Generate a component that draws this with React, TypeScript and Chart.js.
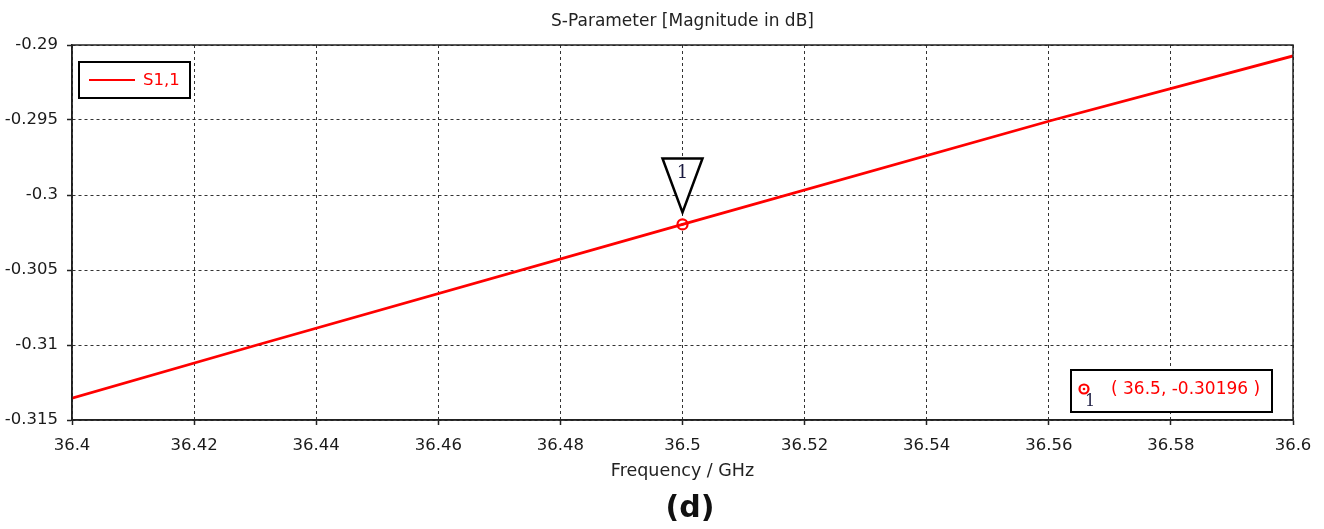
import React, { useEffect, useRef } from "react";
import { Chart, registerables } from "chart.js";

Chart.register(...registerables);

const chartTitle = "S-Parameter [Magnitude in dB]";
const xAxisTitle = "Frequency / GHz";
const figureLabel = "(d)";
const seriesLabel = "S1,1";

const freqGHz = [36.4, 36.4303, 36.5, 36.5607, 36.6];
const s11dB = [-0.31355, -0.31, -0.30196, -0.295, -0.29073];

const markerFreq = [36.5];
const markerValue = [-0.30196];
const markerId = ["1"];

const xTicks = [36.4, 36.42, 36.44, 36.46, 36.48, 36.5, 36.52, 36.54, 36.56, 36.58, 36.6];
const xTickLabels = ["36.4", "36.42", "36.44", "36.46", "36.48", "36.5", "36.52", "36.54", "36.56", "36.58", "36.6"];
const yTicks = [-0.315, -0.31, -0.305, -0.3, -0.295, -0.29];
const yTickLabels = ["-0.315", "-0.31", "-0.305", "-0.3", "-0.295", "-0.29"];

const FONT = "'DejaVu Sans', 'Liberation Sans', sans-serif";
const RED = "#ff0000";

const decorPlugin = {
  id: "decor",
  afterDraw(chart: any) {
    const { ctx, chartArea } = chart;
    const { left, right, top, bottom } = chartArea;
    const xs = chart.scales.x;
    const ys = chart.scales.y;
    ctx.save();
    // frame
    ctx.strokeStyle = "#222";
    ctx.lineWidth = 1.5;
    ctx.setLineDash([]);
    ctx.strokeRect(left, top, right - left, bottom - top);

    // title
    ctx.fillStyle = "#222";
    ctx.font = `17px ${FONT}`;
    ctx.textAlign = "center";
    ctx.textBaseline = "middle";
    ctx.fillText(chartTitle, (left + right) / 2, 22);

    // figure label
    ctx.font = `bold 30px ${FONT}`;
    ctx.fillStyle = "#111";
    ctx.fillText(figureLabel, 690, 509);

    // legend box
    ctx.lineWidth = 2;
    ctx.strokeStyle = "#000";
    ctx.strokeRect(left + 7, top + 17, 111, 36);
    ctx.strokeStyle = RED;
    ctx.lineWidth = 2;
    ctx.beginPath();
    ctx.moveTo(left + 17, top + 35);
    ctx.lineTo(left + 63, top + 35);
    ctx.stroke();
    ctx.fillStyle = RED;
    ctx.font = `16.5px ${FONT}`;
    ctx.textAlign = "left";
    ctx.fillText(seriesLabel, left + 71, top + 36);

    // marker triangles
    markerFreq.forEach((f, i) => {
      const px = xs.getPixelForValue(f);
      const py = ys.getPixelForValue(markerValue[i]);
      ctx.strokeStyle = "#000";
      ctx.lineWidth = 2.5;
      ctx.lineJoin = "miter";
      ctx.fillStyle = "#fff";
      ctx.beginPath();
      ctx.moveTo(px - 20, py - 66);
      ctx.lineTo(px + 20, py - 66);
      ctx.lineTo(px, py - 12);
      ctx.closePath();
      ctx.fill();
      ctx.stroke();
      ctx.fillStyle = "#1a1a40";
      ctx.font = `18px 'DejaVu Serif', serif`;
      ctx.textAlign = "center";
      ctx.textBaseline = "middle";
      ctx.fillText(markerId[i], px, py - 51);
      // center dot
      ctx.fillStyle = RED;
      ctx.beginPath();
      ctx.arc(px, py, 1.3, 0, Math.PI * 2);
      ctx.fill();

      // info box
      const bx = 1071, by = 370, bw = 201, bh = 42;
      ctx.fillStyle = "#fff";
      ctx.fillRect(bx, by, bw, bh);
      ctx.strokeStyle = "#000";
      ctx.lineWidth = 2;
      ctx.strokeRect(bx, by, bw, bh);
      ctx.strokeStyle = RED;
      ctx.lineWidth = 2.2;
      ctx.beginPath();
      ctx.arc(bx + 13, by + 19, 4.5, 0, Math.PI * 2);
      ctx.stroke();
      ctx.fillStyle = RED;
      ctx.beginPath();
      ctx.arc(bx + 13, by + 19, 1.3, 0, Math.PI * 2);
      ctx.fill();
      ctx.fillStyle = "#1a1a40";
      ctx.font = `16px 'DejaVu Serif', serif`;
      ctx.fillText(markerId[i], bx + 19, by + 32);
      ctx.fillStyle = RED;
      ctx.font = `17px ${FONT}`;
      ctx.textAlign = "left";
      ctx.fillText(`( ${f}, ${markerValue[i]} )`, bx + 40, by + 20);
    });
    ctx.restore();
  },
};

export default function App() {
  const ref = useRef<HTMLCanvasElement | null>(null);
  useEffect(() => {
    if (!ref.current) return;
    const chart = new Chart(ref.current, {
      type: "line",
      data: {
        datasets: [
          {
            label: seriesLabel,
            data: freqGHz.map((f, i) => ({ x: f, y: s11dB[i] })),
            borderColor: RED,
            borderWidth: 2.8,
            pointRadius: 0,
            tension: 0,
          },
          {
            label: "marker",
            data: markerFreq.map((f, i) => ({ x: f, y: markerValue[i] })),
            showLine: false,
            pointRadius: 5,
            pointBorderWidth: 2.2,
            pointBorderColor: RED,
            pointBackgroundColor: "#fff",
          },
        ],
      },
      options: {
        animation: false,
        responsive: false,
        maintainAspectRatio: false,
        layout: { padding: { top: 45, left: 0, right: 31, bottom: 47 } },
        plugins: {
          legend: { display: false },
          title: { display: false },
          tooltip: { enabled: false },
        },
        scales: {
          x: {
            type: "linear",
            min: 36.4,
            max: 36.6,
            afterBuildTicks: (s: any) => {
              s.ticks = xTicks.map((v) => ({ value: v }));
            },
            afterFit: (s: any) => {
              s.height = 62;
            },
            ticks: {
              autoSkip: false,
              maxRotation: 0,
              padding: 11,
              color: "#1a1a1a",
              font: { family: FONT, size: 16.5 },
              callback: (v: any) => {
                const i = xTicks.findIndex((t) => Math.abs(t - v) < 1e-9);
                return i >= 0 ? xTickLabels[i] : "";
              },
            },
            grid: {
              color: "#333",
              lineWidth: 1,
              tickLength: 5,
              tickColor: "#222",
              tickBorderDash: [],
              tickWidth: 1.5,
            },
            border: { display: true, color: "#222", width: 1.5, dash: [3, 3] },
            title: {
              display: true,
              text: xAxisTitle,
              color: "#222",
              font: { family: FONT, size: 17.5 },
              padding: { top: 0, bottom: 0 },
            },
          },
          y: {
            type: "linear",
            min: -0.315,
            max: -0.29,
            afterBuildTicks: (s: any) => {
              s.ticks = yTicks.map((v) => ({ value: v }));
            },
            afterFit: (s: any) => {
              s.width = 72;
            },
            ticks: {
              autoSkip: false,
              padding: 9,
              color: "#1a1a1a",
              font: { family: FONT, size: 16.5 },
              callback: (v: any) => {
                const i = yTicks.findIndex((t) => Math.abs(t - v) < 1e-9);
                return i >= 0 ? yTickLabels[i] : "";
              },
            },
            grid: {
              color: "#333",
              lineWidth: 1,
              tickLength: 5,
              tickColor: "#222",
              tickBorderDash: [],
              tickWidth: 1.5,
            },
            border: { display: true, color: "#222", width: 1.5, dash: [3, 3] },
          },
        },
      },
      plugins: [decorPlugin],
    } as any);
    return () => chart.destroy();
  }, []);
  return (
    <div style={{ position: "fixed", left: 0, top: 0, width: 1324, height: 529, background: "#fff" }}>
      <canvas ref={ref} width={1324} height={529} style={{ width: 1324, height: 529, display: "block" }} />
    </div>
  );
}
